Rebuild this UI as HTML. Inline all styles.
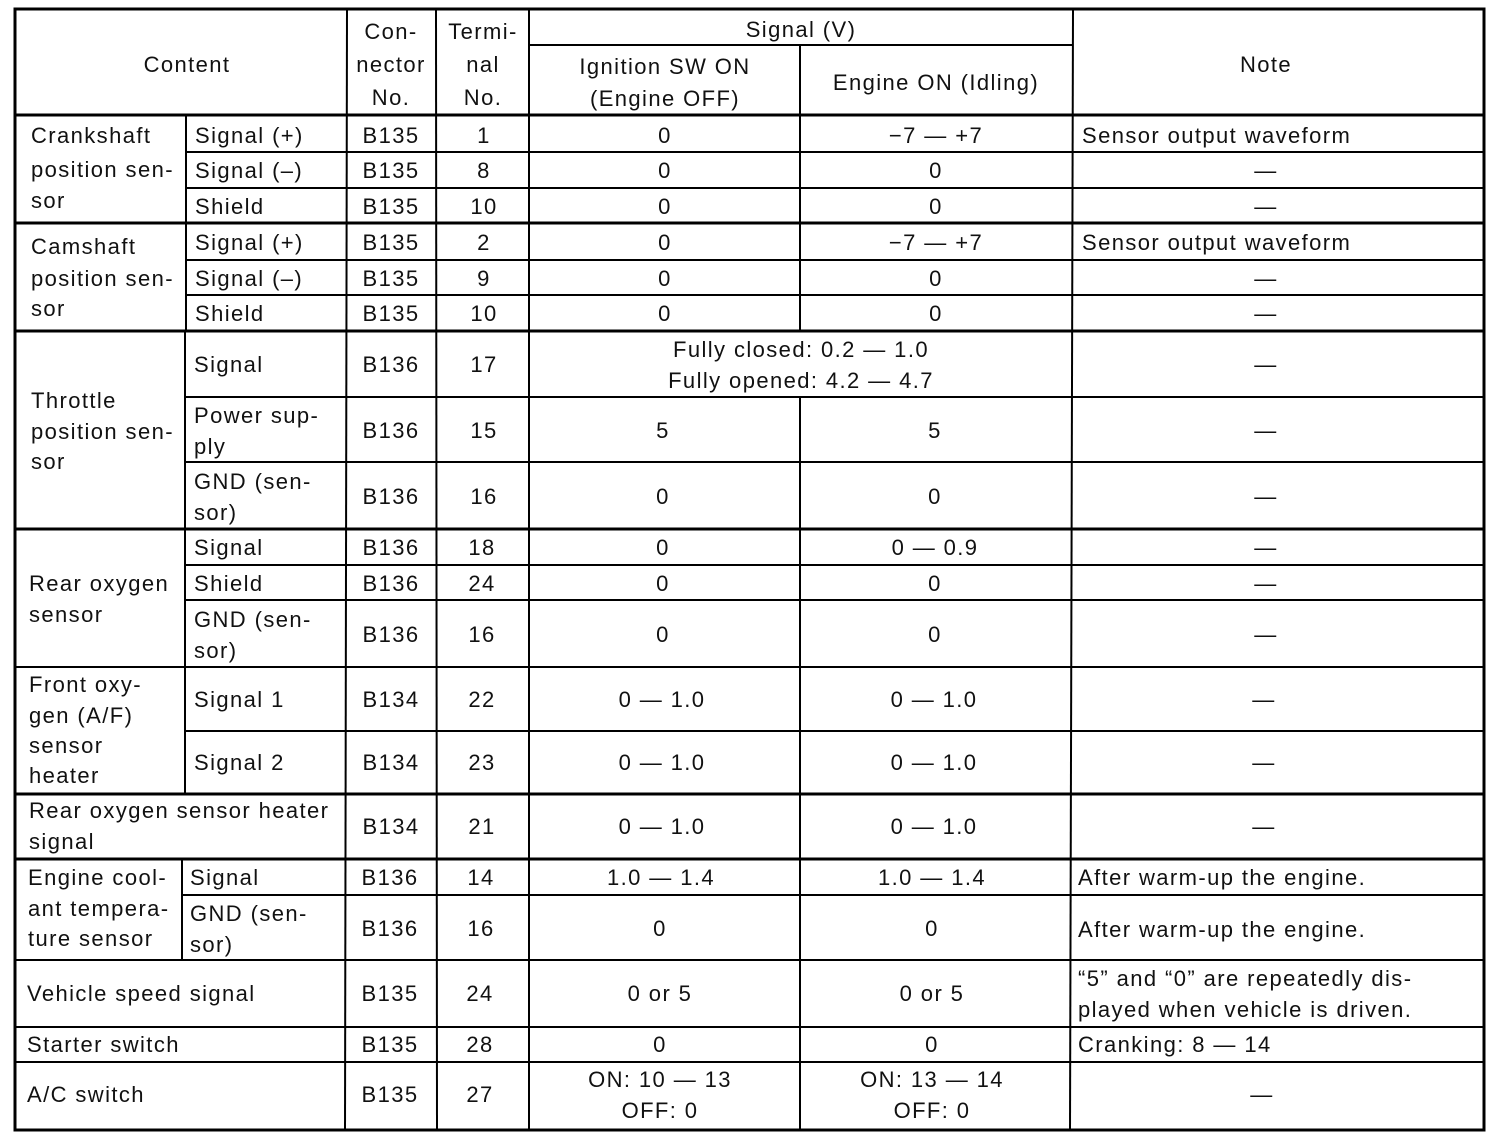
<!DOCTYPE html>
<html><head><meta charset="utf-8"><style>
html,body{margin:0;padding:0;background:#fff;}
svg{display:block}
text{font-family:"Liberation Sans",Arial,sans-serif;font-size:22px;letter-spacing:1.4px;fill:#111;}
</style></head><body>
<svg width="1504" height="1148" viewBox="0 0 1504 1148" xmlns="http://www.w3.org/2000/svg">
<g stroke="#000" stroke-width="2" fill="none">
<rect x="15" y="9" width="1469" height="1121" stroke-width="3"/>
<line x1="347" y1="9" x2="345" y2="1130"/>
<line x1="436" y1="9" x2="437" y2="1130"/>
<line x1="529" y1="9" x2="529" y2="1130"/>
<line x1="1073" y1="9" x2="1070" y2="1130"/>
<line x1="800" y1="45" x2="800" y2="331"/>
<line x1="800" y1="397" x2="800" y2="1130"/>
<line x1="529" y1="45" x2="1073" y2="45"/>
<line x1="186" y1="115" x2="186" y2="331"/>
<line x1="185" y1="331" x2="185" y2="794"/>
<line x1="182" y1="859" x2="182" y2="960"/>
<line x1="15" y1="115" x2="1484" y2="115" stroke-width="3"/>
<line x1="15" y1="223" x2="1484" y2="223" stroke-width="3"/>
<line x1="15" y1="331" x2="1484" y2="331" stroke-width="3"/>
<line x1="15" y1="529" x2="1484" y2="529" stroke-width="3"/>
<line x1="15" y1="667" x2="1484" y2="667"/>
<line x1="15" y1="794" x2="1484" y2="794" stroke-width="3"/>
<line x1="15" y1="859" x2="1484" y2="859" stroke-width="3"/>
<line x1="15" y1="960" x2="1484" y2="960"/>
<line x1="15" y1="1027" x2="1484" y2="1027"/>
<line x1="15" y1="1062" x2="1484" y2="1062"/>
<line x1="186" y1="152" x2="1484" y2="152"/>
<line x1="186" y1="188" x2="1484" y2="188"/>
<line x1="186" y1="260" x2="1484" y2="260"/>
<line x1="186" y1="295" x2="1484" y2="295"/>
<line x1="185" y1="397" x2="1484" y2="397"/>
<line x1="185" y1="462" x2="1484" y2="462"/>
<line x1="185" y1="565" x2="1484" y2="565"/>
<line x1="185" y1="600" x2="1484" y2="600"/>
<line x1="185" y1="731" x2="1484" y2="731"/>
<line x1="182" y1="895" x2="1484" y2="895"/>
</g>
<g text-anchor="middle">
<text x="187" y="72">Content</text>
<text x="391" y="39">Con-</text><text x="391" y="72">nector</text><text x="391" y="105">No.</text>
<text x="483" y="39">Termi-</text><text x="483" y="72">nal</text><text x="483" y="105">No.</text>
<text x="801" y="37">Signal (V)</text>
<text x="665" y="74">Ignition SW ON</text><text x="665" y="106">(Engine OFF)</text>
<text x="936" y="90">Engine ON (Idling)</text>
<text x="1266" y="72">Note</text>
</g>
<g>
<text x="31" y="143">Crankshaft</text><text x="31" y="177">position sen-</text><text x="31" y="208">sor</text>
<text x="31" y="254">Camshaft</text><text x="31" y="286">position sen-</text><text x="31" y="316">sor</text>
<text x="31" y="408">Throttle</text><text x="31" y="439">position sen-</text><text x="31" y="469">sor</text>
<text x="29" y="591">Rear oxygen</text><text x="29" y="622">sensor</text>
<text x="29" y="692">Front oxy-</text><text x="29" y="723">gen (A/F)</text><text x="29" y="753">sensor</text><text x="29" y="783">heater</text>
<text x="29" y="818">Rear oxygen sensor heater</text><text x="29" y="849">signal</text>
<text x="28" y="885">Engine cool-</text><text x="28" y="916">ant tempera-</text><text x="28" y="946">ture sensor</text>
<text x="27" y="1001">Vehicle speed signal</text>
<text x="27" y="1052">Starter switch</text>
<text x="27" y="1102">A/C switch</text>
<text x="195" y="143">Signal (+)</text><text x="195" y="178">Signal (–)</text><text x="195" y="214">Shield</text>
<text x="195" y="250">Signal (+)</text><text x="195" y="286">Signal (–)</text><text x="195" y="321">Shield</text>
<text x="194" y="372">Signal</text>
<text x="194" y="423">Power sup-</text><text x="194" y="454">ply</text>
<text x="194" y="489">GND (sen-</text><text x="194" y="520">sor)</text>
<text x="194" y="555">Signal</text><text x="194" y="591">Shield</text>
<text x="194" y="627">GND (sen-</text><text x="194" y="658">sor)</text>
<text x="194" y="707">Signal 1</text><text x="194" y="770">Signal 2</text>
<text x="190" y="885">Signal</text>
<text x="190" y="921">GND (sen-</text><text x="190" y="952">sor)</text>
<text x="1082" y="143">Sensor output waveform</text>
<text x="1082" y="250">Sensor output waveform</text>
<text x="1078" y="885">After warm-up the engine.</text>
<text x="1078" y="937">After warm-up the engine.</text>
<text x="1078" y="986">“5” and “0” are repeatedly dis-</text>
<text x="1078" y="1017">played when vehicle is driven.</text>
<text x="1078" y="1052">Cranking: 8 — 14</text>
</g>
<g text-anchor="middle">
<text x="391" y="143">B135</text><text x="484" y="143">1</text><text x="665" y="143">0</text><text x="936" y="143">−7 — +7</text>
<text x="391" y="178">B135</text><text x="484" y="178">8</text><text x="665" y="178">0</text><text x="936" y="178">0</text><text x="1266" y="178">—</text>
<text x="391" y="214">B135</text><text x="484" y="214">10</text><text x="665" y="214">0</text><text x="936" y="214">0</text><text x="1266" y="214">—</text>
<text x="391" y="250">B135</text><text x="484" y="250">2</text><text x="665" y="250">0</text><text x="936" y="250">−7 — +7</text>
<text x="391" y="286">B135</text><text x="484" y="286">9</text><text x="665" y="286">0</text><text x="936" y="286">0</text><text x="1266" y="286">—</text>
<text x="391" y="321">B135</text><text x="484" y="321">10</text><text x="665" y="321">0</text><text x="936" y="321">0</text><text x="1266" y="321">—</text>
<text x="391" y="372">B136</text><text x="484" y="372">17</text><text x="801" y="357">Fully closed: 0.2 — 1.0</text><text x="801" y="388">Fully opened: 4.2 — 4.7</text><text x="1266" y="372">—</text>
<text x="391" y="438">B136</text><text x="484" y="438">15</text><text x="663" y="438">5</text><text x="935" y="438">5</text><text x="1266" y="438">—</text>
<text x="391" y="504">B136</text><text x="484" y="504">16</text><text x="663" y="504">0</text><text x="935" y="504">0</text><text x="1266" y="504">—</text>
<text x="391" y="555">B136</text><text x="482" y="555">18</text><text x="663" y="555">0</text><text x="935" y="555">0 — 0.9</text><text x="1266" y="555">—</text>
<text x="391" y="591">B136</text><text x="482" y="591">24</text><text x="663" y="591">0</text><text x="935" y="591">0</text><text x="1266" y="591">—</text>
<text x="391" y="642">B136</text><text x="482" y="642">16</text><text x="663" y="642">0</text><text x="935" y="642">0</text><text x="1266" y="642">—</text>
<text x="391" y="707">B134</text><text x="482" y="707">22</text><text x="662" y="707">0 — 1.0</text><text x="934" y="707">0 — 1.0</text><text x="1264" y="707">—</text>
<text x="391" y="770">B134</text><text x="482" y="770">23</text><text x="662" y="770">0 — 1.0</text><text x="934" y="770">0 — 1.0</text><text x="1264" y="770">—</text>
<text x="391" y="834">B134</text><text x="482" y="834">21</text><text x="662" y="834">0 — 1.0</text><text x="934" y="834">0 — 1.0</text><text x="1264" y="834">—</text>
<text x="390" y="885">B136</text><text x="481" y="885">14</text><text x="661" y="885">1.0 — 1.4</text><text x="932" y="885">1.0 — 1.4</text>
<text x="390" y="936">B136</text><text x="481" y="936">16</text><text x="660" y="936">0</text><text x="932" y="936">0</text>
<text x="390" y="1001">B135</text><text x="480" y="1001">24</text><text x="660" y="1001">0 or 5</text><text x="932" y="1001">0 or 5</text>
<text x="390" y="1052">B135</text><text x="480" y="1052">28</text><text x="660" y="1052">0</text><text x="932" y="1052">0</text>
<text x="390" y="1102">B135</text><text x="480" y="1102">27</text><text x="660" y="1087">ON: 10 — 13</text><text x="660" y="1118">OFF: 0</text><text x="932" y="1087">ON: 13 — 14</text><text x="932" y="1118">OFF: 0</text><text x="1262" y="1102">—</text>
</g>
</svg>
</body></html>
